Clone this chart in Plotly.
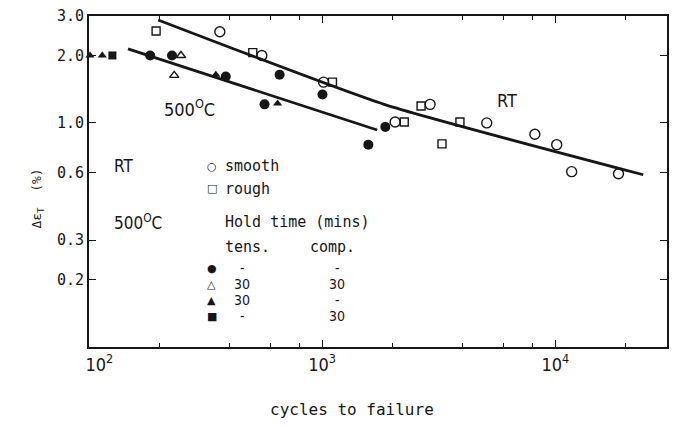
import plotly.graph_objects as go

# ---- fit lines (cycles, total strain range %) ----
rt_line_n = [198, 1845, 23830]
rt_line_e = [2.88, 1.21, 0.587]
hot_line_n = [147, 1722]
hot_line_e = [2.14, 0.93]

# ---- room temperature data ----
smooth_n = [364, 551, 1014, 2056, 2904, 5080, 8170, 10140, 11750, 18660]
smooth_e = [2.55, 2.0, 1.52, 1.01, 1.21, 1.0, 0.89, 0.80, 0.606, 0.593]
rough_n = [194, 504, 1107, 2249, 2656, 3899, 3266]
rough_e = [2.57, 2.06, 1.52, 1.01, 1.19, 1.01, 0.806]

# ---- 500 C data, by hold time ----
nohold_n = [183, 227, 386, 657, 566, 1003, 1578, 1866]
nohold_e = [2.0, 2.0, 1.61, 1.64, 1.21, 1.34, 0.80, 0.96]
both_n = [248, 232]
both_e = [2.0, 1.63]
tens_n = [101, 114, 350, 644]
tens_e = [2.0, 2.0, 1.64, 1.22]
comp_n = [126]
comp_e = [2.0]

x_ticks = [100, 1000, 10000]
x_ticktext = ["\u00a0\u00a0\u00a0\u00a010<sup>2</sup>", "10<sup>3</sup>", "10<sup>4</sup>"]
x_minor = [200, 400, 600, 800, 2000, 4000, 6000, 8000, 20000]
y_ticks = [0.2, 0.3, 0.6, 1.0, 2.0, 3.0]
y_ticktext = ["0.2", "0.3", "0.6", "1.0", "2.0", "3.0"]

INK = "#161616"
MONO = "DejaVu Sans Mono, Liberation Mono, monospace"
NARROW = "Liberation Sans Narrow, DejaVu Sans Condensed, Roboto Condensed, Liberation Sans, sans-serif"

fig = go.Figure()

for xs, ys in [(rt_line_n, rt_line_e), (hot_line_n, hot_line_e)]:
    fig.add_trace(go.Scatter(x=xs, y=ys, mode="lines",
                             line=dict(color=INK, width=2.8, shape="spline", smoothing=0.5),
                             showlegend=False, hoverinfo="skip"))

def pts(xs, ys, symbol, size, lw=1.4):
    fig.add_trace(go.Scatter(
        x=xs, y=ys, mode="markers", cliponaxis=False, showlegend=False,
        marker=dict(symbol=symbol, size=size, color=INK,
                    line=dict(color=INK, width=lw))))

pts(smooth_n, smooth_e, "circle-open", 10)
pts(rough_n, rough_e, "square-open", 8)
pts(nohold_n, nohold_e, "circle", 10, 0)
pts(both_n, both_e, "triangle-up-open", 8)
pts(tens_n, tens_e, "triangle-up", 8, 0)
pts(comp_n, comp_e, "square", 8, 0)

def px(x):
    return (x - 89) / 580

def py(y):
    return (347 - y) / 333

def label(text, x, y, size=15, family=MONO, anchor="left"):
    fig.add_annotation(text=text, x=px(x), y=py(y), xref="paper", yref="paper",
                       xanchor=anchor, yanchor="middle", showarrow=False,
                       font=dict(family=family, size=size, color=INK))

# in-plot labels
label("500<sup>O</sup>C", 190, 107, 18, NARROW, "center")
label("RT", 508, 99, 18, NARROW, "center")

# key
label("RT", 112, 165, 17, NARROW)
label("500<sup>O</sup>C", 112, 221, 17, NARROW)
label("\u25cb", 212, 165, 11, "DejaVu Sans", "center")
label("smooth", 223, 165, 15)
label("\u25a1", 212, 188, 11, "DejaVu Sans", "center")
label("rough", 223, 188, 15)
label("Hold time (mins)", 223, 221, 15)
label("tens.", 223, 246, 15)
label("comp.", 309, 246, 15)
rows_sym = ["\u25cf", "\u25b3", "\u25b2", "\u25a0"]
rows_tens = ["-", "30", "30", "-"]
rows_comp = ["-", "30", "-", "30"]
rows_y = [268, 284, 300, 316]
for s, t, c, yy in zip(rows_sym, rows_tens, rows_comp, rows_y):
    label(s, 212, yy, 11, "DejaVu Sans", "center")
    label(t, 243, yy, 14, NARROW, "center")
    label(c, 338, yy, 14, NARROW, "center")

# axis titles
label("cycles to failure", 353, 410, 16, MONO, "center")
fig.add_annotation(text="\u0394\u03b5<sub>T</sub>  (%)", x=px(27), y=py(198),
                   xref="paper", yref="paper", textangle=-90, showarrow=False,
                   font=dict(family=MONO, size=13, color=INK))

fig.update_xaxes(type="log", range=[2, 4.479], tickvals=x_ticks, ticktext=x_ticktext,
                 ticks="inside", ticklen=7, tickwidth=1.4, tickcolor=INK,
                 showline=True, linecolor=INK, linewidth=2, mirror="ticks",
                 showgrid=False, zeroline=False,
                 tickfont=dict(family=NARROW, size=18, color=INK),
                 minor=dict(tickvals=x_minor, ticks="inside", ticklen=4, tickwidth=1.2,
                            tickcolor=INK, showgrid=False))
fig.update_yaxes(type="log", range=[-1, 0.4771], tickvals=y_ticks, ticktext=y_ticktext,
                 ticks="inside", ticklen=7, tickwidth=1.4, tickcolor=INK,
                 showline=True, linecolor=INK, linewidth=2, mirror="ticks",
                 showgrid=False, zeroline=False,
                 tickfont=dict(family=MONO, size=15, color=INK))

fig.update_layout(width=676, height=428, margin=dict(l=89, r=7, t=14, b=81),
                  paper_bgcolor="white", plot_bgcolor="white", showlegend=False)

fig.write_html("out.html")
